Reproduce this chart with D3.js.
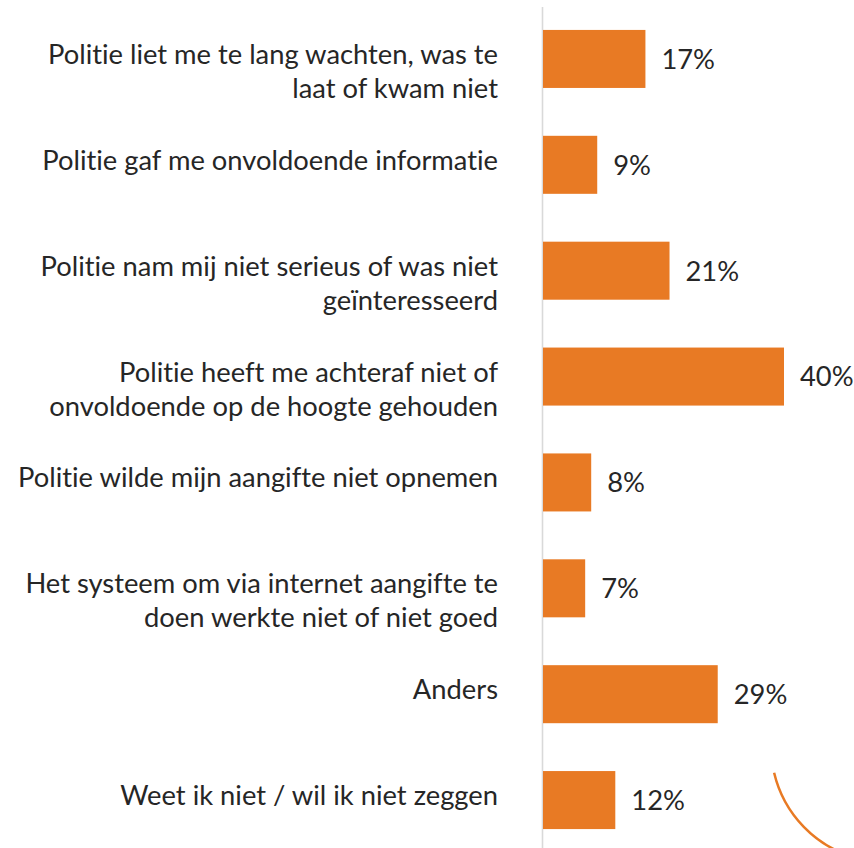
<!DOCTYPE html>
<html>
<head>
<meta charset="utf-8">
<script src="https://cdn.jsdelivr.net/npm/d3@7"></script>
<style>
  html, body { margin: 0; padding: 0; background: #ffffff; }
  svg { display: block; }
  svg text { font-variant-ligatures: none; font-feature-settings: "liga" 0, "clig" 0; }
</style>
</head>
<body>
<div id="chart"></div>
<script>
// ---- data ----
const categories = [
  "Politie liet me te lang wachten, was te\nlaat of kwam niet",
  "Politie gaf me onvoldoende informatie",
  "Politie nam mij niet serieus of was niet\ngeïnteresseerd",
  "Politie heeft me achteraf niet of\nonvoldoende op de hoogte gehouden",
  "Politie wilde mijn aangifte niet opnemen",
  "Het systeem om via internet aangifte te\ndoen werkte niet of niet goed",
  "Anders",
  "Weet ik niet / wil ik niet zeggen"
];
const values = [17, 9, 21, 40, 8, 7, 29, 12];
const valueLabels = ["17%", "9%", "21%", "40%", "8%", "7%", "29%", "12%"];

// ---- layout ----
const W = 854, H = 848;
const axisX = 543;
const labelRight = 498;
const fontFamily = "Lato, 'Open Sans', sans-serif";
const textColor = "#262626";
const barColor = "#E87A24";

const svg = d3.select("#chart").append("svg")
  .attr("width", W).attr("height", H)
  .style("font-family", fontFamily);

const y = d3.scaleBand()
  .domain(d3.range(categories.length))
  .range([6, 853])
  .paddingInner(0.452)
  .paddingOuter(0.226);

const x = d3.scaleLinear()
  .domain([0, 40])
  .range([axisX, 784]);

// fit font size so the widest single line spans the reference width
const probe = svg.append("text").attr("font-size", 100)
  .text("Politie wilde mijn aangifte niet opnemen");
const probeW = probe.node().getComputedTextLength();
probe.remove();
const fs = 100 * 480 / probeW;

// axis line
svg.append("line")
  .attr("x1", axisX - 0.5).attr("x2", axisX - 0.5)
  .attr("y1", 7).attr("y2", H)
  .attr("stroke", "#D9D9D9").attr("stroke-width", 1.6);

// bars
svg.append("g").selectAll("rect")
  .data(values)
  .join("rect")
  .attr("x", x(0))
  .attr("y", (d, i) => y(i))
  .attr("width", d => x(d) - x(0))
  .attr("height", y.bandwidth())
  .attr("fill", barColor);

// value labels
svg.append("g").selectAll("text")
  .data(values)
  .join("text")
  .attr("x", d => x(d) + 16)
  .attr("y", (d, i) => y(i) + y.bandwidth() / 2)
  .attr("dy", "0.36em")
  .attr("font-size", fs)
  .attr("fill", textColor)
  .text((d, i) => valueLabels[i]);

// category labels
const lab = svg.append("g").selectAll("text")
  .data(categories)
  .join("text")
  .attr("x", labelRight)
  .attr("y", (d, i) => y(i) + y.bandwidth() / 2 + 5)
  .attr("text-anchor", "end")
  .attr("font-size", fs)
  .attr("fill", textColor);
lab.each(function(d) {
  const t = d3.select(this);
  d.split("\n").forEach((line, k) => {
    t.append("tspan")
      .attr("x", labelRight)
      .attr("dy", k === 0 ? 0 : 34)
      .text(line);
  });
});

// decorative arc (bottom-right)
const p = d3.path();
const cx = 887, cy = 746, r = 116;
const a0 = 166.7 * Math.PI / 180, a1 = 105 * Math.PI / 180;
p.moveTo(cx + r * Math.cos(a0), cy + r * Math.sin(a0));
p.arc(cx, cy, r, a0, a1, true);
svg.append("path")
  .attr("d", p.toString())
  .attr("fill", "none")
  .attr("stroke", barColor)
  .attr("stroke-width", 2.5);
</script>
</body>
</html>
